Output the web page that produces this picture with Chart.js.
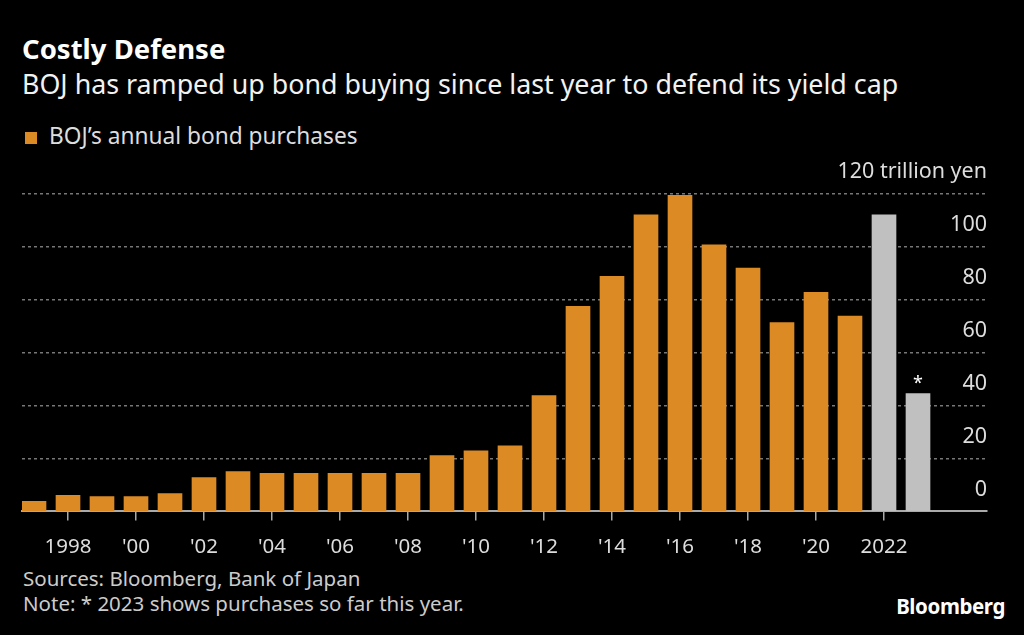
<!DOCTYPE html>
<html>
<head>
<meta charset="utf-8">
<script src="https://cdn.jsdelivr.net/npm/chart.js@4.4.1/dist/chart.umd.min.js"></script>
<style>
  html, body { margin: 0; padding: 0; background: #000; }
  body { width: 1024px; height: 635px; position: relative; overflow: hidden; font-family: "Noto Sans", sans-serif; color: #fff; }
  .title { position: absolute; left: 22px; top: 30px; font-size: 27.5px; font-weight: 700; }
  .subtitle { position: absolute; left: 22px; top: 65px; font-size: 26.8px; color: #f2f2f2; }
  .legend { position: absolute; left: 25px; top: 120px; font-size: 22.7px; color: #ddd; }
  .legend .box { display: inline-block; width: 12px; height: 12px; background: #dc8a24; margin-right: 12px; vertical-align: 0px; }
  .foot { position: absolute; left: 23px; top: 566px; font-size: 20.5px; color: #ccc; line-height: 25px; }
  .brand { position: absolute; right: 19px; top: 592px; font-size: 20.5px; font-weight: 700; color: #fff; letter-spacing: -0.4px; }
  #wrap { position: absolute; left: 0; top: 150px; width: 1024px; height: 430px; }
</style>
</head>
<body>
<div class="title">Costly Defense</div>
<div class="subtitle">BOJ has ramped up bond buying since last year to defend its yield cap</div>
<div class="legend"><span class="box"></span>BOJ’s annual bond purchases</div>
<div class="foot">Sources: Bloomberg, Bank of Japan<br>Note: * 2023 shows purchases so far this year.</div>
<div class="brand">Bloomberg</div>
<div id="wrap"><canvas id="chart"></canvas></div>

<script>
let years = [1997, 1998, 1999, 2000, 2001, 2002, 2003, 2004, 2005, 2006, 2007, 2008, 2009,
             2010, 2011, 2012, 2013, 2014, 2015, 2016, 2017, 2018, 2019, 2020, 2021, 2022, 2023];
let purchases = [3.8, 6.1, 5.6, 5.6, 6.7, 12.8, 15.1, 14.4, 14.4, 14.4, 14.4, 14.4, 21.1,
                 22.9, 24.8, 43.8, 77.5, 88.9, 112.1, 119.5, 100.8, 92.0, 71.4, 82.8, 73.8, 112.1, 44.5];
let tickYears = [1998, 2000, 2002, 2004, 2006, 2008, 2010, 2012, 2014, 2016, 2018, 2020, 2022];
let tickLabels = ['1998', "'00", "'02", "'04", "'06", "'08", "'10", "'12", "'14", "'16", "'18", "'20", '2022'];
let yTicks = [0, 20, 40, 60, 80, 100, 120];

const orange = '#dc8a24';
const grey = '#c0c0c0';

// star over the partial-year bar
const starPlugin = {
    id: 'star',
    afterDatasetsDraw(chart) {
        let meta = chart.getDatasetMeta(0);
        let bar = meta.data[meta.data.length - 1];
        let ctx = chart.ctx;
        ctx.save();
        ctx.fillStyle = '#fff';
        ctx.font = '18px "Noto Sans"';
        ctx.textAlign = 'center';
        ctx.textBaseline = 'bottom';
        ctx.fillText('*', bar.x, bar.y - 1);
        ctx.restore();
    }
};

let ctx = document.getElementById('chart').getContext('2d');
new Chart(ctx, {
    type: 'bar',
    data: {
        datasets: [{
            label: 'BOJ’s annual bond purchases',
            data: years.map((y, i) => ({ x: y, y: purchases[i] })),
            backgroundColor: c => (c.raw && c.raw.x >= 2022) ? grey : orange,
            barThickness: 24
        }]
    },
    options: {
        responsive: true,
        maintainAspectRatio: false,
        animation: false,
        layout: { padding: { left: 22, right: 37, top: 44, bottom: 7 } },
        plugins: { legend: { display: false }, tooltip: { enabled: false } },
        scales: {
            x: {
                type: 'linear',
                offset: false,
                min: 1997 - 12 / 34,
                max: 1997 - 12 / 34 + 965 / 34,
                afterBuildTicks: axis => { axis.ticks = tickYears.map(v => ({ value: v })); },
                ticks: {
                    color: '#ddd',
                    font: { family: 'Noto Sans', size: 20.5 },
                    padding: 14,
                    maxRotation: 0,
                    autoSkip: false,
                    callback: v => tickLabels[tickYears.indexOf(v)]
                },
                grid: { offset: false, drawOnChartArea: false, drawTicks: true, tickLength: 9, color: '#aaa', lineWidth: 1.5 },
                border: { display: true, color: '#aaa', width: 2 }
            },
            y: {
                position: 'right',
                min: 0,
                max: 120,
                afterBuildTicks: axis => { axis.ticks = yTicks.map(v => ({ value: v })); },
                ticks: {
                    mirror: true,
                    padding: 0,
                    labelOffset: -22,
                    color: '#ddd',
                    font: { family: 'Noto Sans', size: 21.5 },
                    callback: v => v === 120 ? '120 trillion yen' : String(v)
                },
                grid: {
                    drawTicks: false,
                    color: c => c.tick && c.tick.value === 0 ? 'rgba(0,0,0,0)' : '#777',
                    lineWidth: 1.5
                },
                border: { display: false, dash: [3, 3] }
            }
        }
    },
    plugins: [starPlugin]
});
</script>
</body>
</html>
